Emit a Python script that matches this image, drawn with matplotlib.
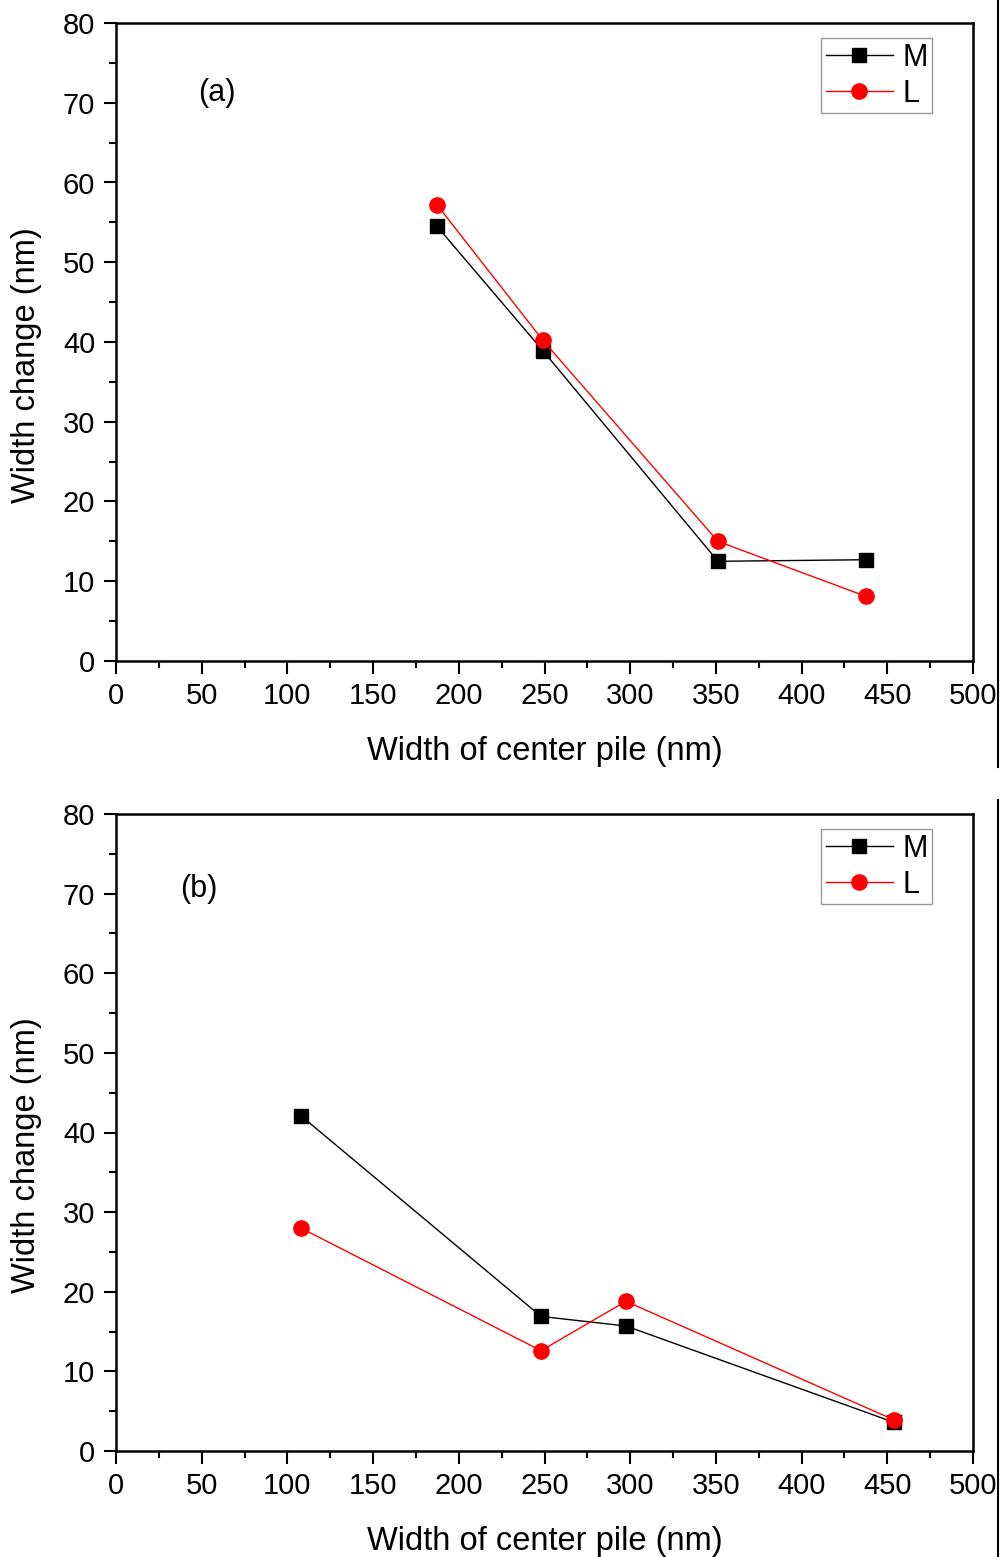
import numpy as np
import matplotlib
matplotlib.use('Agg')
import matplotlib.pyplot as plt
from matplotlib.lines import Line2D
from matplotlib.ticker import MultipleLocator

plt.rcParams['font.family'] = ['Liberation Sans', 'DejaVu Sans']

# === Data ===
# panel (a)
xa = [187.3, 249.1, 351.2, 437.6]
Ma = [54.5, 38.9, 12.5, 12.7]
La = [57.2, 40.2, 15.0, 8.1]

# panel (b)
xb = [107.9, 248.0, 297.5, 453.9]
Mb = [42.1, 16.9, 15.7, 3.6]
Lb = [28.0, 12.6, 18.8, 3.9]

panels = [('(a)', xa, Ma, La, (217, 93)),
          ('(b)', xb, Mb, Lb, (199, 889))]

W, H = 1001, 1557
fig = plt.figure(figsize=(W / 100, H / 100), dpi=100)

# axes boxes in pixels: left, top, right, bottom
boxes = [(116, 23, 973, 661), (116, 814, 973, 1451)]

for (tag, x, M, L, tpos), (l, t, r, b) in zip(panels, boxes):
    ax = fig.add_axes([l / W, 1 - b / H, (r - l) / W, (b - t) / H])
    ax.plot(x, M, '-s', color='black', lw=1.0, ms=10, mec='black', label='M')
    ax.plot(x, L, '-o', color='red', lw=1.0, ms=11, mec='red', label='L')

    ax.set_xlim(0, 500)
    ax.set_ylim(0, 80)
    ax.xaxis.set_major_locator(MultipleLocator(50))
    ax.xaxis.set_minor_locator(MultipleLocator(25))
    ax.yaxis.set_major_locator(MultipleLocator(10))
    ax.yaxis.set_minor_locator(MultipleLocator(5))
    ax.tick_params(which='major', direction='out', length=9, width=1.5,
                   labelsize=21, pad=6)
    ax.tick_params(which='minor', direction='out', length=5, width=1.5)
    for sp in ax.spines.values():
        sp.set_linewidth(1.8)

    ax.set_xlabel('Width of center pile (nm)', fontsize=23.5, labelpad=19)
    ax.set_ylabel('Width change (nm)', fontsize=23.5)
    ax.yaxis.set_label_coords((42 - l) / (r - l), 0.5 - 23 / (b - t))

    ax.text((tpos[0] - l) / (r - l), 1 - (tpos[1] - t) / (b - t), tag,
            transform=ax.transAxes, fontsize=22, ha='center', va='center')

    leg = ax.legend(loc='upper right', bbox_to_anchor=((932 - l) / (r - l), 1 - 15 / (b - t)),
                    fontsize=22, frameon=True, fancybox=False,
                    handlelength=2.2, handletextpad=0.3, borderpad=0.15,
                    labelspacing=0.2, borderaxespad=0)
    leg.get_frame().set_edgecolor('gray')
    leg.get_frame().set_linewidth(1.0)

# thin frame edge at the right
fig.add_artist(Line2D([998 / W, 998 / W], [1, 1 - 767 / H], color='black', lw=1.5))
fig.add_artist(Line2D([998 / W, 998 / W], [1 - 800 / H, 0], color='black', lw=1.5))

fig.savefig('out.png', dpi=100)
